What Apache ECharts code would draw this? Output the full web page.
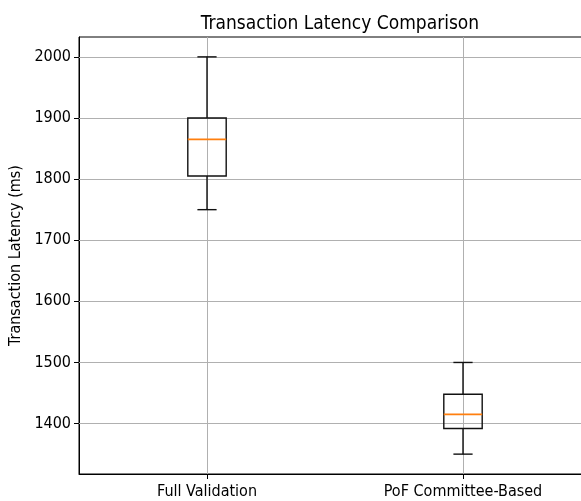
<!DOCTYPE html>
<html>
<head>
<meta charset="utf-8">
<script src="https://cdn.jsdelivr.net/npm/echarts@6/dist/echarts.min.js"></script>
<style>html,body{margin:0;padding:0;background:#fff;}#chart{width:581px;height:501px;}</style>
</head>
<body>
<div id="chart"></div>
<script>
const categories = ['Full Validation', 'PoF Committee-Based'];
const positions = [1, 2];
const lowWhisker = [1750, 1350];
const q1 = [1805, 1392];
const median = [1865, 1415];
const q3 = [1900, 1448];
const highWhisker = [2000, 1500];
const yTicks = [1400, 1500, 1600, 1700, 1800, 1900, 2000];

const boxData = positions.map((p, i) => [p, lowWhisker[i], q1[i], median[i], q3[i], highWhisker[i]]);

const chart = echarts.init(document.getElementById('chart'), null, {renderer: 'canvas'});
const font = '"DejaVu Sans Condensed", "DejaVu Sans", sans-serif';
chart.setOption({
  animation: false,
  backgroundColor: '#fff',
  title: {
    text: 'Transaction Latency Comparison',
    left: 335, top: 10, textAlign: 'center',
    textStyle: {fontFamily: font, fontSize: 19, fontWeight: 'normal', color: '#000'}
  },
  grid: {left: 79, top: 37, right: -10, bottom: 27, show: true, borderColor: '#000', borderWidth: 1,
    containLabel: false, outerBoundsMode: 'none'},
  xAxis: {
    type: 'value', min: 0.5, max: 2.5,
    axisLine: {show: true, lineStyle: {color: '#000', width: 1}},
    axisTick: {show: true, length: 5, customValues: positions, lineStyle: {color: '#000'}},
    axisLabel: {customValues: positions, margin: 10, fontFamily: font, fontSize: 16, color: '#000',
      formatter: v => categories[Math.round(v) - 1] || ''},
    splitLine: {show: false}
  },
  yAxis: {
    type: 'value', min: 1317.5, max: 2032.5,
    name: 'Transaction Latency (ms)', nameLocation: 'middle', nameGap: 51, nameRotate: 90,
    nameTextStyle: {fontFamily: font, fontSize: 16, color: '#000'},
    axisLine: {show: true, lineStyle: {color: '#000', width: 1}},
    axisTick: {show: true, length: 5, customValues: yTicks, lineStyle: {color: '#000'}},
    axisLabel: {customValues: yTicks, margin: 8, fontFamily: font, fontSize: 16, color: '#000',
      formatter: v => String(v)},
    splitLine: {show: false}
  },
  series: [{
    type: 'custom',
    coordinateSystem: 'cartesian2d',
    data: boxData,
    z: 5,
    renderItem: function (params, api) {
      const x = api.value(0);
      const lo = api.coord([x, api.value(1)]);
      const b1 = api.coord([x, api.value(2)]);
      const md = api.coord([x, api.value(3)]);
      const b3 = api.coord([x, api.value(4)]);
      const hi = api.coord([x, api.value(5)]);
      const w = api.size([0.15, 0])[0];
      const cap = w / 2;
      const cx = lo[0];
      const black = {stroke: '#111', lineWidth: 1.4, fill: null};
      return {
        type: 'group',
        children: [
          {type: 'line', shape: {x1: cx, y1: lo[1], x2: cx, y2: b1[1]}, style: black},
          {type: 'line', shape: {x1: cx, y1: b3[1], x2: cx, y2: hi[1]}, style: black},
          {type: 'line', shape: {x1: cx - cap / 2, y1: lo[1], x2: cx + cap / 2, y2: lo[1]}, style: black},
          {type: 'line', shape: {x1: cx - cap / 2, y1: hi[1], x2: cx + cap / 2, y2: hi[1]}, style: black},
          {type: 'rect', shape: {x: cx - w / 2, y: b3[1], width: w, height: b1[1] - b3[1]}, style: black},
          {type: 'line', shape: {x1: cx - w / 2, y1: md[1], x2: cx + w / 2, y2: md[1]}, style: {stroke: '#ff7f0e', lineWidth: 1.6}}
        ]
      };
    },
    markLine: {
      silent: true, symbol: 'none', label: {show: false},
      lineStyle: {color: '#b0b0b0', width: 1, type: 'solid'},
      z: 1,
      data: positions.map(p => ({xAxis: p})).concat(yTicks.map(t => ({yAxis: t})))
    }
  }]
});
</script>
</body>
</html>
